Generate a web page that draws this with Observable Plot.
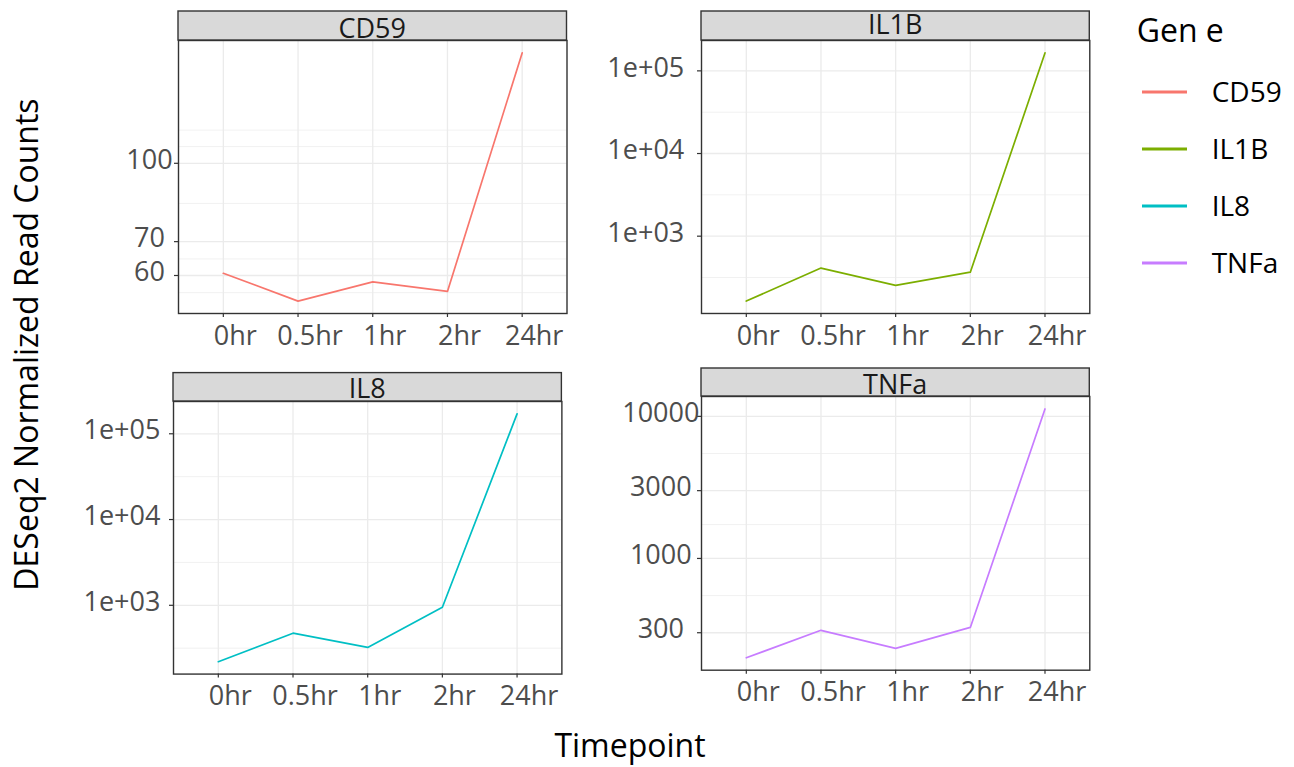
<!DOCTYPE html>
<html><head><meta charset="utf-8">
<script src="https://cdn.jsdelivr.net/npm/d3@7"></script>
<script src="https://cdn.jsdelivr.net/npm/@observablehq/plot@0.6"></script>
<style>
html,body{margin:0;padding:0;background:#fff;}
#chart{position:relative;width:1294px;height:767px;overflow:hidden;font-family:"Open Sans",sans-serif;background:#fff;}
#chart svg{position:absolute;}
</style></head><body><div id="chart"></div>
<script>
// ---- data ----
const timepoints = ["0hr", "0.5hr", "1hr", "2hr", "24hr"];
const genes = ["CD59", "IL1B", "IL8", "TNFa"];
const geneColors = ["#F8766D", "#7CAE00", "#00BFC4", "#C77CFF"];

const cd59Counts = [60.6, 53.4, 58.3, 55.8, 165.3];
const il1bCounts = [164, 411, 254, 367, 164900];
const il8Counts  = [220, 473, 323, 948, 170600];
const tnfaCounts = [200, 312, 233, 327, 11280];

const cd59Ticks = [60, 70, 100];
const cd59TickLabels = ["60", "70", "100"];
const cd59MinorTicks = [55.5, 64.7, 83.3, 107.9, 116.3];

const il1bTicks = [1e3, 1e4, 1e5];
const il1bTickLabels = ["1e+03", "1e+04", "1e+05"];
const il1bMinorTicks = [316.2, 3162, 31623];

const il8Ticks = [1e3, 1e4, 1e5];
const il8TickLabels = ["1e+03", "1e+04", "1e+05"];
const il8MinorTicks = [316.2, 3162, 31623];

const tnfaTicks = [300, 1000, 3000, 10000];
const tnfaTickLabels = ["300", "1000", "3000", "10000"];
const tnfaMinorTicks = [547.7, 1732, 5477];

const yTitle = "DESeq2 Normalized Read Counts";
const xTitle = "Timepoint";
const legendTitle = "Gen e";

// ---- layout (positions only) ----
const layout = {
  CD59: {left: 178, top: 39.7, right: 566.5, bottom: 312.7, stripH: 29, stripDy: -2.5, yLabelOffset: 29},
  IL1B: {left: 700.7, top: 39.7, right: 1089, bottom: 312.7, stripH: 29, stripDy: -6, yLabelOffset: 55.7},
  IL8:  {left: 173.3, top: 400.7, right: 561.7, bottom: 673.3, stripH: 28.4, stripDy: -2.5, yLabelOffset: 51.6},
  TNFa: {left: 700.7, top: 396, right: 1089, bottom: 669.7, stripH: 28, stripDy: -2, yLabelOffset: 40.7}
};

const chart = document.getElementById("chart");
const FONT = '"Open Sans", sans-serif';

// background svg: titles + legend
const bg = d3.select(chart).append("svg")
  .attr("width", 1294).attr("height", 767)
  .style("left", "0px").style("top", "0px")
  .style("font-family", FONT);

bg.append("text")
  .attr("transform", "translate(38,344.5) rotate(-90)")
  .attr("text-anchor", "middle").attr("font-size", 32).attr("fill", "#000")
  .text(yTitle);
bg.append("text")
  .attr("x", 630).attr("y", 757).attr("text-anchor", "middle")
  .attr("font-size", 32).attr("fill", "#000").text(xTitle);
bg.append("text")
  .attr("x", 1136.7).attr("y", 41.7).attr("font-size", 32).attr("fill", "#000").text(legendTitle);
genes.forEach((g, i) => {
  const cy = 92 + i * 57;
  bg.append("line").attr("x1", 1142).attr("x2", 1187).attr("y1", cy).attr("y2", cy)
    .attr("stroke", geneColors[i]).attr("stroke-width", 3);
  bg.append("text").attr("x", 1211.7).attr("y", cy).attr("dy", "0.36em")
    .attr("font-size", 28).attr("fill", "#000").text(g);
});

function panel(gene, counts, ticks, tickLabels, minor, color, L) {
  const data = timepoints.map((t, i) => ({time: t, count: counts[i]}));
  const lo = Math.log10(d3.min(counts)), hi = Math.log10(d3.max(counts));
  const pad = (hi - lo) * 0.05;
  const ML = 110, MR = 30, MT = 40, MB = 45;
  const pw = L.right - L.left, ph = L.bottom - L.top;
  const fmt = d => tickLabels[ticks.indexOf(d)];
  const svg = Plot.plot({
    width: pw + ML + MR, height: ph + MT + MB,
    marginLeft: ML, marginRight: MR, marginTop: MT, marginBottom: MB,
    style: {fontFamily: FONT, fontSize: "27px", background: "transparent", overflow: "visible"},
    x: {type: "point", domain: timepoints, padding: 0.6, round: false},
    y: {type: "log", domain: [10 ** (lo - pad), 10 ** (hi + pad)]},
    marks: [
      Plot.gridY(minor, {stroke: "#ebebeb", strokeOpacity: 1, strokeWidth: 0.7}),
      Plot.gridY(ticks, {stroke: "#ebebeb", strokeOpacity: 1, strokeWidth: 1.3}),
      Plot.gridX(timepoints, {stroke: "#ebebeb", strokeOpacity: 1, strokeWidth: 1.3}),
      Plot.line(data, {x: "time", y: "count", stroke: color, strokeWidth: 1.7}),
      Plot.frame({stroke: "#333333", strokeWidth: 1.4}),
      Plot.axisX(timepoints, {tickSize: 4, stroke: "#333333", strokeWidth: 1.2, fill: "none", label: null}),
      Plot.axisX(timepoints, {tickSize: 4, tickPadding: 8, dx: 12, stroke: "none", fill: "#4d4d4d", fontSize: 27, label: null}),
      Plot.axisY(ticks, {tickSize: 4, stroke: "#333333", strokeWidth: 1.2, fill: "none", label: null}),
      Plot.axisY(ticks, {tickSize: 4, tickPadding: L.yLabelOffset - 4, textAnchor: "middle", dy: -3,
        tickFormat: fmt, stroke: "none", fill: "#4d4d4d", fontSize: 27, label: null})
    ]
  });
  const s = d3.select(svg);
  s.style("left", (L.left - ML) + "px").style("top", (L.top - MT) + "px");
  s.append("rect").attr("x", ML).attr("y", MT - L.stripH).attr("width", pw).attr("height", L.stripH)
    .attr("fill", "#d9d9d9").attr("stroke", "#333333").attr("stroke-width", 1.4);
  s.append("text").attr("x", ML + pw / 2).attr("y", MT + L.stripDy)
    .attr("text-anchor", "middle").attr("font-size", 27).attr("fill", "#1a1a1a").text(gene);
  chart.appendChild(svg);
}

panel("CD59", cd59Counts, cd59Ticks, cd59TickLabels, cd59MinorTicks, geneColors[0], layout.CD59);
panel("IL1B", il1bCounts, il1bTicks, il1bTickLabels, il1bMinorTicks, geneColors[1], layout.IL1B);
panel("IL8", il8Counts, il8Ticks, il8TickLabels, il8MinorTicks, geneColors[2], layout.IL8);
panel("TNFa", tnfaCounts, tnfaTicks, tnfaTickLabels, tnfaMinorTicks, geneColors[3], layout.TNFa);
</script></body></html>
